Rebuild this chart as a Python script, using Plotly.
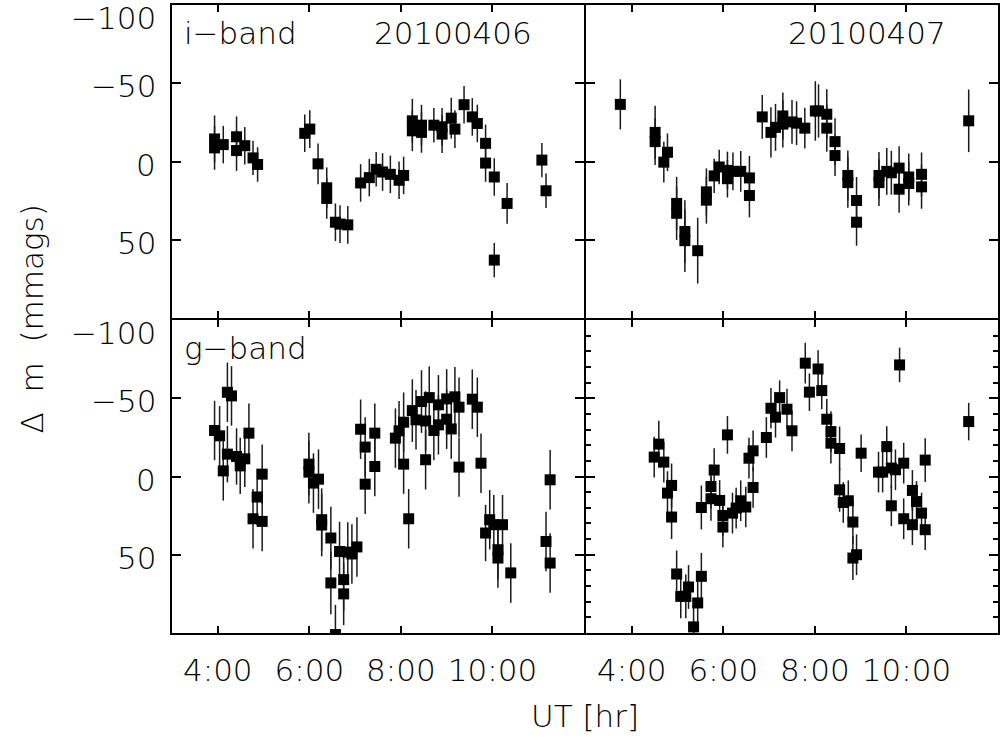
import plotly.graph_objects as go
from plotly.subplots import make_subplots

# ---- i-band, night 20100406 (UT hours, delta mag in mmag, 1-sigma error) ----
t_i1 = [3.93, 3.93, 4.12, 4.41, 4.41, 4.59, 4.77, 4.87,
        5.90, 6.01, 6.19, 6.38, 6.38, 6.57, 6.67, 6.84,
        7.12, 7.31, 7.46, 7.60, 7.77, 7.96, 8.06,
        8.25, 8.25, 8.45, 8.45, 8.72, 8.90, 8.90, 9.10, 9.18, 9.38,
        9.56, 9.67, 9.85, 9.85, 10.04, 10.04, 10.32, 11.08, 11.17]
dm_i1 = [-14.4, -8.7, -10.8, -15.8, -7.0, -10.1, -2.3, 1.9,
         -18.0, -20.7, 1.5, 16.8, 23.6, 38.8, 40.0, 40.5,
         13.7, 10.3, 5.0, 6.7, 8.2, 12.0, 8.9,
         -26.0, -19.6, -23.2, -18.6, -23.2, -22.2, -17.5, -27.7, -20.7, -36.3,
         -28.5, -24.3, -11.6, 1.0, 9.9, 63.0, 26.8, -0.9, 18.7]
err_i1 = [15, 14, 12, 13, 13, 12, 11, 11,
          12, 12, 13, 13, 13, 12, 12, 12,
          12, 12, 11, 12, 12, 12, 12,
          14, 13, 13, 13, 11, 12, 12, 13, 12, 12,
          12, 12, 12, 12, 12, 11, 13, 11, 11]

# ---- i-band, night 20100407 ----
t_i2 = [3.75, 4.51, 4.51, 4.70, 4.78, 4.98, 4.98, 5.16, 5.16, 5.44,
        5.63, 5.63, 5.80, 5.91, 6.09, 6.09, 6.21, 6.38, 6.57, 6.57,
        6.85, 7.04, 7.14, 7.30, 7.30, 7.50, 7.60, 7.78, 8.01, 8.08,
        8.26, 8.26, 8.44, 8.44, 8.72, 8.72, 8.91, 8.91, 9.40, 9.40,
        9.57, 9.67, 9.84, 9.84, 10.05, 10.05, 10.33, 10.33, 11.36]
dm_i2 = [-36.5, -18.6, -12.7, 0.4, -5.9, 26.8, 33.1, 44.7, 50.6, 57.0,
         19.4, 24.7, 9.2, 3.5, 5.7, 11.0, 6.3, 6.3, 10.5, 21.7,
         -28.5, -18.6, -21.8, -29.1, -23.9, -25.3, -24.5, -21.3, -32.3, -32.3,
         -30.2, -21.3, -12.7, -3.8, 8.9, 13.5, 24.9, 38.8, 8.9, 13.5,
         6.3, 7.2, 4.2, 17.7, 9.9, 14.1, 8.2, 16.2, -26.0]
err_i2 = [16, 17, 15, 13, 12, 17, 17, 20, 20, 21,
          15, 15, 11, 11, 12, 12, 12, 13, 14, 14,
          14, 16, 15, 15, 15, 14, 14, 13, 19, 17,
          16, 15, 15, 13, 16, 16, 15, 15, 15, 15,
          15, 14, 14, 15, 15, 14, 14, 14, 20]

# ---- g-band, night 20100406 ----
t_g1 = [3.93, 4.04, 4.12, 4.21, 4.21, 4.30, 4.41, 4.49, 4.59, 4.68,
        4.77, 4.86, 4.97, 4.97, 5.99, 5.99, 6.09, 6.20, 6.27, 6.27,
        6.47, 6.47, 6.57, 6.66, 6.75, 6.75, 6.84, 6.93, 7.04, 7.12,
        7.22, 7.22, 7.43, 7.43, 7.88, 7.96, 8.06, 8.06, 8.17, 8.25,
        8.33, 8.45, 8.54, 8.54, 8.62, 8.72, 8.82, 8.82, 9.00, 9.00,
        9.10, 9.18, 9.27, 9.27, 9.56, 9.67, 9.75, 9.85, 9.94, 10.03,
        10.12, 10.12, 10.22, 10.40, 11.17, 11.26, 11.26]
dm_g1 = [-29.4, -26.0, -3.6, -53.8, -14.3, -51.5, -12.8, -6.8, -11.3, -27.7,
         27.0, 13.1, -1.5, 28.7, -7.9, -2.8, 4.2, 1.7, 27.6, 31.0,
         39.3, 68.0, 101.0, 47.9, 65.9, 75.0, 48.3, 49.5, 45.0, -30.2,
         -18.8, 4.9, -27.7, -6.4, -24.5, -29.2, -34.7, -7.9, 27.0, -42.1,
         -36.2, -47.9, -35.5, -10.7, -50.4, -29.4, -45.8, -33.0, -49.6, -36.6,
         -30.4, -50.9, -44.3, -6.0, -49.4, -44.3, -8.5, 36.1, 27.6, 30.8,
         46.8, 52.1, 30.8, 61.6, 41.5, 2.1, 55.3]
err_g1 = [19, 19, 19, 19, 18, 19, 18, 18, 18, 19,
          19, 18, 19, 19, 20, 20, 19, 19, 20, 20,
          20, 20, 19, 19, 20, 20, 19, 19, 19, 19,
          19, 19, 19, 19, 19, 19, 19, 19, 19, 20,
          19, 20, 19, 19, 20, 19, 19, 19, 19, 19,
          19, 19, 19, 19, 19, 19, 19, 18, 19, 19,
          19, 19, 19, 19, 19, 19, 19]

# ---- g-band, night 20100407 ----
t_g2 = [4.49, 4.59, 4.70, 4.78, 4.87, 4.87, 4.98, 5.07, 5.18, 5.24,
        5.35, 5.44, 5.52, 5.52, 5.73, 5.73, 5.80, 5.92, 5.99, 5.99,
        6.09, 6.20, 6.28, 6.38, 6.49, 6.56, 6.65, 6.65, 6.94, 7.04,
        7.14, 7.23, 7.39, 7.50, 7.79, 7.88, 8.07, 8.15, 8.26, 8.35,
        8.35, 8.54, 8.54, 8.62, 8.73, 8.83, 8.83, 8.91, 9.01, 9.39,
        9.48, 9.57, 9.67, 9.67, 9.76, 9.85, 9.94, 9.94, 10.13, 10.13,
        10.22, 10.33, 10.41, 10.41, 11.36]
dm_g2 = [-12.4, -20.7, -9.2, 10.6, 5.7, 25.9, 62.3, 76.6, 76.6, 70.6,
         96.1, 80.8, 63.8, 19.8, 6.4, 14.2, -4.1, 15.3, 24.9, 32.3,
         -26.6, 23.4, 20.2, 15.5, 19.5, -11.7, -16.4, 7.0, -24.9, -43.6,
         -37.9, -50.4, -43.0, -29.2, -72.4, -53.9, -68.7, -54.9, -36.6, -28.7,
         -21.3, -17.9, 8.5, 16.6, 15.5, 29.1, 52.1, 50.0, -14.9, -2.8,
         -2.8, -19.1, -5.4, 18.7, -4.3, -71.3, -8.5, 27.0, 8.9, 30.8,
         16.0, 23.4, -10.5, 34.0, -35.1]
err_g2 = [13, 15, 13, 14, 14, 14, 15, 14, 14, 14,
          14, 15, 15, 14, 14, 14, 14, 13, 13, 13,
          12, 13, 13, 13, 13, 13, 13, 13, 13, 13,
          13, 11, 13, 13, 13, 12, 12, 12, 13, 13,
          13, 14, 14, 13, 13, 14, 14, 13, 12, 13,
          13, 13, 13, 13, 13, 11, 13, 13, 13, 13,
          13, 13, 14, 13, 12]

# axis ticks
x_ticks = [4, 6, 8, 10]
x_ticktext = ["4:00", "6:00", "8:00", "10:00"]
y_ticks = [-50, 0, 50]
y_labels = [-100, -50, 0, 50]

FONT = "DejaVu Sans"
BLACK = "#000000"
FRAME_W = 2          # frame line width in px
PLOT_W, PLOT_H = 828, 628

# a gap of one line width lets the frames of neighbouring panels coincide
fig = make_subplots(rows=2, cols=2,
                    horizontal_spacing=FRAME_W / PLOT_W,
                    vertical_spacing=FRAME_W / PLOT_H)

panels = [
    (1, 1, t_i1, dm_i1, err_i1),
    (1, 2, t_i2, dm_i2, err_i2),
    (2, 1, t_g1, dm_g1, err_g1),
    (2, 2, t_g2, dm_g2, err_g2),
]
for row, col, t, dm, err in panels:
    fig.add_trace(
        go.Scatter(
            x=t, y=dm, mode="markers",
            marker=dict(symbol="square", size=11, color=BLACK, line=dict(width=0)),
            error_y=dict(type="data", array=err, visible=True,
                         thickness=1.5, width=0, color="#1a1a1a"),
            showlegend=False, cliponaxis=True,
        ),
        row=row, col=col,
    )

for row in (1, 2):
    for col in (1, 2):
        fig.update_xaxes(
            range=[3, 12], tickvals=x_ticks, ticktext=x_ticktext,
            ticks="inside", ticklen=7, tickwidth=1.5, tickcolor=BLACK,
            showline=True, linewidth=FRAME_W, linecolor=BLACK, mirror="ticks",
            showgrid=False, zeroline=False,
            showticklabels=(row == 2),
            tickfont=dict(family=FONT, size=31, color=BLACK, weight=200),
            ticklabelstandoff=9,
            row=row, col=col,
        )
        yopts = dict(
            range=[100, -100], tickvals=y_ticks,
            ticks="inside", ticklen=9, tickwidth=1.5, tickcolor=BLACK,
            showline=True, linewidth=FRAME_W, linecolor=BLACK, mirror="ticks",
            showgrid=False, zeroline=False, showticklabels=False,
        )
        if row == 2 and col == 2:
            yopts["minor"] = dict(dtick=10, ticks="inside", ticklen=5,
                                  tickwidth=1.5, tickcolor=BLACK, showgrid=False)
        fig.update_yaxes(**yopts, row=row, col=col)

annotations = []

def label_text(v):
    return ("\u2212" + str(-v)) if v < 0 else str(v)

# y tick labels on the left column
for xref, yref in (("x domain", "y"), ("x3 domain", "y3")):
    for v in y_labels:
        annotations.append(dict(
            text=label_text(v), xref=xref, yref=yref, x=0, y=v,
            xanchor="right", yanchor="middle", xshift=-14,
            yshift=(-13 if v == -100 else -3), showarrow=False,
            font=dict(family=FONT, size=31, color=BLACK, weight=200),
        ))

# panel captions
captions = [
    ("i\u2212band", "x", "y", 3.22, "left"),
    ("20100406", "x", "y", 9.14, "center"),
    ("20100407", "x2", "y2", 9.14, "center"),
    ("g\u2212band", "x3", "y3", 3.22, "left"),
]
for text, xref, yref, xv, anchor in captions:
    annotations.append(dict(
        text=text, xref=xref, yref=yref, x=xv, y=-82,
        xanchor=anchor, yanchor="middle", showarrow=False,
        font=dict(family=FONT, size=31, color=BLACK, weight=200),
    ))

# axis titles
annotations.append(dict(
    text="\u0394\u00a0\u00a0m\u00a0\u00a0(mmags)", xref="paper", yref="paper",
    x=-0.169, y=0.5, xanchor="center", yanchor="middle", textangle=-90,
    showarrow=False, font=dict(family=FONT, size=31, color=BLACK, weight=200),
))
annotations.append(dict(
    text="UT [hr]", xref="paper", yref="paper",
    x=0.5, y=-0.132, xanchor="center", yanchor="middle",
    showarrow=False, font=dict(family=FONT, size=31, color=BLACK, weight=200),
))

fig.update_layout(
    width=1000, height=744,
    margin=dict(l=172, r=0, t=5, b=111),
    paper_bgcolor="white", plot_bgcolor="white",
    font=dict(family=FONT, size=31, color=BLACK),
    annotations=annotations,
)

fig.write_html("out.html")
